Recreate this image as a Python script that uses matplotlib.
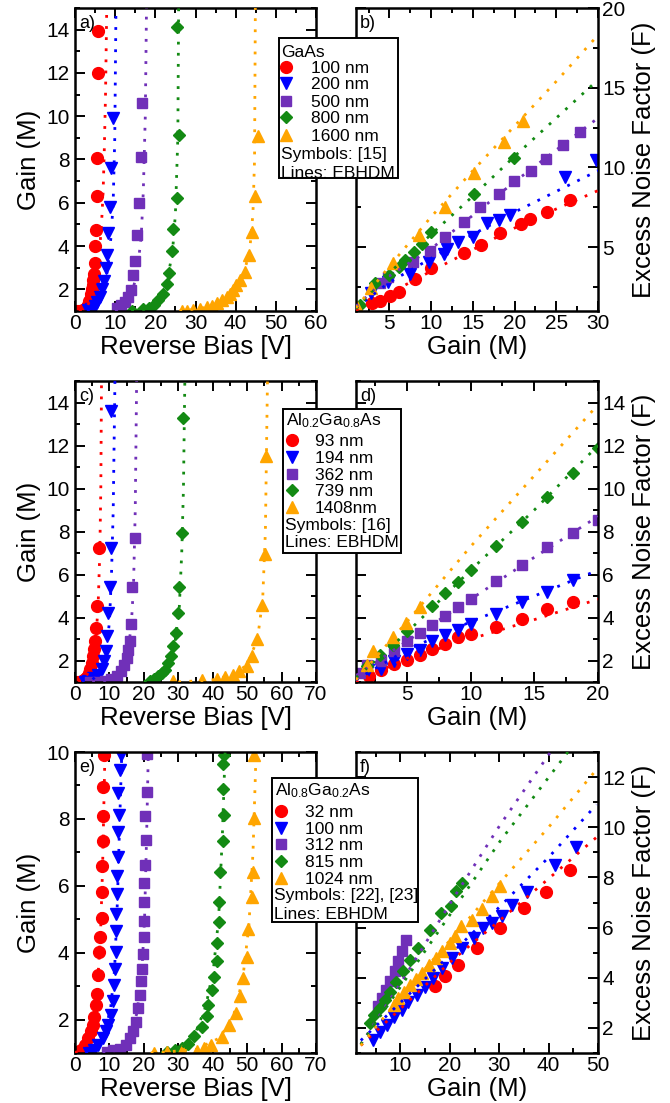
import matplotlib
matplotlib.use("Agg")
import matplotlib.pyplot as plt
from matplotlib.lines import Line2D
from matplotlib.patches import Rectangle
from matplotlib.ticker import MultipleLocator

plt.rcParams['font.family'] = ['Liberation Sans', 'DejaVu Sans']
plt.rcParams['mathtext.fontset'] = 'custom'
plt.rcParams['mathtext.rm'] = 'Liberation Sans'
plt.rcParams['mathtext.it'] = 'Liberation Sans:italic'
plt.rcParams['mathtext.default'] = 'regular'

# ---------------- a) GaAs: gain vs reverse bias ----------------
a_labels = ["100 nm", "200 nm", "500 nm", "800 nm", "1600 nm"]
a_v_100 = [0.5, 1.0, 1.5, 2.0, 2.5, 3.0, 3.3, 3.6, 3.9, 4.1, 4.3, 4.5, 4.6, 4.7, 5.0, 5.0, 5.2, 5.6, 5.6, 5.8, 5.8]
a_m_100 = [1.0, 1.0, 1.02, 1.05, 1.1, 1.2, 1.3, 1.45, 1.6, 1.8, 2.0, 2.2, 2.45, 2.7, 3.2, 4.0, 4.75, 6.3, 8.06, 12.0, 13.95]
a_v_200 = [3.3, 4.1, 5.0, 5.6, 6.2, 6.6, 7.3, 7.7, 8.0, 8.3, 8.7, 9.0, 9.4]
a_m_200 = [1.05, 1.1, 1.25, 1.4, 1.65, 2.0, 2.4, 3.0, 3.6, 4.6, 5.8, 7.6, 9.9]
a_v_500 = [10.4, 11.5, 12.4, 13.3, 13.9, 14.5, 14.9, 15.4, 16.0, 16.4, 16.6]
a_m_500 = [1.12, 1.28, 1.43, 1.66, 1.97, 2.65, 3.3, 4.5, 6.0, 8.1, 10.6]
a_v_800 = [14.1, 17.0, 18.3, 19.7, 20.7, 21.8, 22.8, 23.4, 24.2, 24.5, 25.3, 25.9, 25.3]
a_m_800 = [1.0, 1.08, 1.12, 1.28, 1.5, 1.77, 2.23, 2.77, 3.79, 4.78, 6.2, 9.14, 14.1]
a_v_1600 = [26.6, 27.8, 29.5, 31.1, 32.8, 34.0, 35.3, 36.5, 37.8, 38.6, 39.4, 40.2, 41.1, 42.3, 43.2, 44.1, 44.8, 45.5]
a_m_1600 = [1.0, 1.02, 1.05, 1.1, 1.17, 1.23, 1.35, 1.5, 1.65, 1.8, 1.97, 2.2, 2.43, 2.8, 3.6, 4.67, 6.3, 9.07]
# EBHDM curves
a_lv_100 = [1.0, 3.0, 4.5, 5.5, 6.2, 6.6, 7.0, 7.3, 7.6, 7.9]
a_lm_100 = [1.0, 1.2, 1.8, 2.8, 4.0, 5.0, 6.5, 8.5, 11.0, 15.0]
a_lv_200 = [3.0, 5.0, 7.0, 8.2, 9.0, 9.5, 9.9, 10.2]
a_lm_200 = [1.0, 1.2, 1.8, 3.0, 4.5, 6.0, 9.0, 15.0]
a_lv_500 = [10.0, 12.0, 14.0, 15.5, 16.5, 17.0, 17.5, 17.8]
a_lm_500 = [1.0, 1.2, 1.7, 2.8, 4.5, 6.5, 10.0, 15.0]
a_lv_800 = [14.0, 18.0, 21.0, 23.0, 24.3, 25.0, 25.6, 25.8]
a_lm_800 = [1.0, 1.1, 1.5, 2.4, 3.8, 5.5, 9.0, 15.0]
a_lv_1600 = [26.0, 34.0, 39.0, 42.0, 43.5, 44.3, 44.7, 44.9]
a_lm_1600 = [1.0, 1.2, 1.8, 2.7, 3.8, 5.5, 8.0, 15.0]

# ---------------- b) GaAs: excess noise factor vs gain ----------------
b_g_100 = [2.9, 3.9, 5.1, 6.2, 8.1, 10.0, 14.0, 16.0, 18.2, 20.8, 21.9, 23.9, 26.6]
b_f_100 = [1.48, 1.63, 1.94, 2.21, 2.99, 3.68, 4.62, 5.14, 5.87, 6.46, 6.77, 7.23, 7.97]
b_g_200 = [2.8, 4.8, 7.5, 9.7, 11.6, 11.9, 13.2, 15.0, 16.7, 18.1, 19.5, 26.1, 29.8]
b_f_200 = [2.1, 2.84, 3.3, 4.1, 4.6, 4.9, 5.35, 5.67, 6.54, 6.7, 7.0, 9.4, 10.5]
b_g_500 = [3.9, 4.8, 7.8, 9.9, 11.7, 13.9, 15.8, 18.1, 19.9, 22.0, 23.8, 25.8, 27.9]
b_f_500 = [2.78, 3.15, 4.05, 4.79, 5.67, 6.6, 7.5, 8.34, 9.18, 9.81, 10.52, 11.4, 12.25]
b_g_800 = [1.5, 3.3, 5.0, 6.1, 6.9, 7.9, 8.9, 10.0, 15.1, 19.9]
b_f_800 = [1.4, 2.74, 3.26, 3.78, 4.2, 4.72, 5.18, 5.98, 8.32, 10.58]
b_g_1600 = [1.08, 2.76, 5.4, 8.5, 11.7, 15.2, 18.7, 21.0]
b_f_1600 = [1.23, 2.42, 3.99, 5.77, 7.55, 9.64, 11.6, 12.9]
b_lg = [1, 5, 10, 15, 20, 25, 30]
b_lf_100 = [1.05, 2.1, 3.5, 4.85, 6.2, 7.4, 8.55]
b_lf_200 = [1.2, 2.8, 4.3, 5.8, 7.2, 8.5, 9.8]
b_lf_500 = [1.3, 3.2, 4.9, 7.0, 9.1, 11.1, 13.1]
b_lf_800 = [1.15, 3.4, 5.8, 8.2, 10.7, 13.1, 15.5]
b_lf_1600 = [1.2, 3.8, 6.9, 9.8, 12.6, 15.4, 18.3]

# ---------------- c) Al0.2Ga0.8As: gain vs reverse bias ----------------
c_labels = ["93 nm", "194 nm", "362 nm", "739 nm", "1408nm"]
c_v_93 = [0.2, 1, 2, 3, 3.5, 4, 4.5, 5, 5.3, 5.6, 5.8, 6.1, 6.5, 7.0]
c_m_93 = [1.0, 1.02, 1.06, 1.15, 1.25, 1.4, 1.6, 1.9, 2.2, 2.55, 2.89, 3.5, 4.54, 7.22]
c_v_194 = [2.9, 3.9, 5.3, 6.8, 7.7, 8.5, 9.0, 9.4, 9.7, 10.2, 10.5, 10.6]
c_m_194 = [1.0, 1.03, 1.19, 1.34, 1.6, 1.99, 2.45, 3.12, 4.23, 5.44, 7.22, 13.6]
c_v_362 = [4.4, 6.8, 8.7, 10.6, 12.1, 13.3, 14.2, 15.0, 15.5, 16.0, 16.3, 16.7, 17.4]
c_m_362 = [1.0, 1.0, 1.03, 1.14, 1.29, 1.5, 1.8, 2.1, 2.5, 2.89, 3.71, 5.41, 7.68]
c_v_739 = [21.8, 22.9, 24.2, 25.2, 26.1, 27.1, 27.9, 28.6, 29.3, 30.0, 30.3, 31.0, 31.3]
c_m_739 = [1.06, 1.14, 1.26, 1.42, 1.57, 1.88, 2.19, 2.66, 3.3, 4.2, 5.44, 7.95, 13.3]
c_v_1408 = [28.6, 36.8, 41.1, 43.6, 46.0, 47.7, 49.9, 51.5, 53.0, 54.4, 55.2, 55.4]
c_m_1408 = [1.03, 1.08, 1.14, 1.23, 1.34, 1.5, 1.76, 2.22, 3.0, 4.59, 6.94, 11.5]
c_lv_93 = [1, 3, 5, 6, 6.7, 7.2, 7.5, 7.7]
c_lm_93 = [1.0, 1.15, 1.9, 2.9, 4.5, 7, 10, 15]
c_lv_194 = [2, 5, 7.5, 9, 10, 10.6, 11.1, 11.6]
c_lm_194 = [1.0, 1.1, 1.5, 2.3, 3.8, 6, 9, 15]
c_lv_362 = [5, 10, 13, 15, 16.3, 17, 17.5, 17.9]
c_lm_362 = [1.0, 1.1, 1.5, 2.2, 3.5, 5.5, 9, 15]
c_lv_739 = [20, 24, 27, 29, 30.3, 31, 31.5, 31.9]
c_lm_739 = [1.0, 1.25, 1.8, 2.8, 4.5, 7, 10, 15]
c_lv_1408 = [30, 40, 46, 50, 53, 54.5, 55.3, 55.9]
c_lm_1408 = [1.0, 1.1, 1.35, 1.8, 3.0, 4.8, 8, 15]

# ---------------- d) Al0.2Ga0.8As: excess noise factor vs gain ----------------
d_g_93 = [2.05, 3, 4, 5, 6, 7, 8, 9, 10, 12, 14, 16, 18]
d_f_93 = [1.29, 1.54, 1.84, 2.04, 2.27, 2.53, 2.76, 3.07, 3.24, 3.54, 3.92, 4.39, 4.71]
d_g_194 = [1.97, 3, 4, 5, 6, 7, 8, 9, 10, 12, 14, 16, 18]
d_f_194 = [1.54, 1.6, 1.96, 2.31, 2.5, 2.89, 3.2, 3.4, 3.71, 4.17, 4.7, 5.2, 5.75]
d_g_362 = [1.3, 1.9, 3, 4, 5, 6, 7, 8, 9, 10, 12, 14, 16, 18, 20]
d_f_362 = [1.42, 1.8, 1.96, 2.42, 2.89, 3.27, 3.66, 4.08, 4.48, 4.87, 5.72, 6.45, 7.27, 7.92, 8.53]
d_g_739 = [1.84, 2.9, 3.9, 5.0, 7.0, 8, 9, 10, 12, 14, 16, 18, 20]
d_f_739 = [1.73, 2.27, 2.73, 3.35, 4.54, 5.13, 5.67, 6.21, 7.33, 8.43, 9.62, 10.7, 11.9]
d_g_1408 = [1.9, 2.3, 3.9, 4.9, 6.0]
d_f_1408 = [1.77, 2.42, 3.07, 3.74, 4.51]
d_lg = [1, 5, 10, 15, 20]
d_lf_93 = [1.0, 2.1, 3.0, 3.9, 4.85]
d_lf_194 = [1.1, 2.5, 3.8, 5.0, 6.2]
d_lf_362 = [1.3, 2.9, 4.85, 6.8, 8.7]
d_lf_739 = [1.2, 3.3, 6.2, 9.0, 12.0]
d_lf_1408 = [1.1, 3.8, 7.3, 10.6, 13.9]

# ---------------- e) Al0.8Ga0.2As: gain vs reverse bias ----------------
e_labels = ["32 nm", "100 nm", "312 nm", "815 nm", "1024 nm"]
e_v_32 = [0.7, 1.7, 2.9, 3.9, 4.6, 5.1, 5.6, 6.0, 6.3, 6.6, 7.0, 7.3, 7.7, 7.9, 7.9, 8.2, 8.2, 8.2, 8.4]
e_m_32 = [1.02, 1.1, 1.25, 1.45, 1.65, 1.85, 2.09, 2.44, 2.77, 3.32, 4.03, 4.46, 5.05, 5.8, 6.59, 7.33, 8.08, 8.94, 9.92]
e_v_100 = [4.2, 5.6, 6.8, 8.0, 9.0, 9.7, 10.5, 10.9, 11.4, 11.6, 11.8, 11.9, 11.9, 12.1, 12.1, 12.4, 12.6, 12.9, 12.6, 13.1, 13.3]
e_m_100 = [1.0, 1.1, 1.25, 1.45, 1.65, 1.85, 2.14, 2.54, 3.04, 3.5, 4.03, 4.66, 5.16, 5.75, 6.3, 6.87, 7.61, 8.11, 8.76, 9.45, 9.92]
e_v_312 = [9.2, 11.1, 13.1, 14.8, 16.0, 16.9, 17.7, 18.2, 18.9, 19.2, 19.6, 19.8, 20.0, 20.0, 20.1, 20.1, 20.3, 20.5, 20.3, 20.8, 21.0]
e_m_312 = [1.02, 1.08, 1.12, 1.25, 1.45, 1.65, 1.94, 2.34, 2.74, 3.14, 3.5, 3.96, 4.48, 4.96, 5.52, 6.07, 6.62, 7.36, 8.08, 8.81, 9.93]
e_v_815 = [26.6, 29.0, 31.0, 32.9, 34.7, 36.8, 38.2, 38.7, 39.7, 40.5, 41.1, 41.3, 41.8, 41.9, 42.1, 43.1, 43.3, 43.1, 43.1, 43.3]
e_m_815 = [1.02, 1.1, 1.15, 1.28, 1.52, 1.77, 2.11, 2.44, 2.89, 3.27, 3.75, 4.28, 4.93, 5.52, 6.42, 7.33, 8.11, 8.88, 9.65, 9.92]
e_v_1024 = [22.9, 26.6, 31.0, 35.3, 37.5, 39.4, 42.6, 44.8, 46.9, 47.9, 48.9, 49.9, 50.3, 51.3, 51.8, 52.0, 52.0]
e_m_1024 = [1.0, 1.02, 1.05, 1.07, 1.15, 1.25, 1.48, 1.83, 2.19, 2.69, 3.24, 3.88, 4.7, 5.67, 6.42, 8.03, 9.9]
e_lv_32 = [0, 3, 5, 6.5, 7.4, 8.0, 8.4, 8.7]
e_lm_32 = [1.0, 1.25, 1.8, 3.0, 4.5, 6.5, 8.5, 10]
e_lv_100 = [3, 6, 8.5, 10.3, 11.5, 12.3, 13.0, 13.6]
e_lm_100 = [1.0, 1.15, 1.6, 2.3, 3.5, 5.5, 8, 10]
e_lv_312 = [8, 13, 16, 18, 19.4, 20.2, 20.8, 21.3]
e_lm_312 = [1.0, 1.1, 1.5, 2.2, 3.4, 5, 7.5, 10]
e_lv_815 = [25, 31, 35, 38, 40.2, 41.7, 42.8, 43.6]
e_lm_815 = [1.0, 1.15, 1.6, 2.4, 3.5, 5, 7.5, 10]
e_lv_1024 = [22, 35, 42, 46, 48.7, 50.5, 51.7, 52.6]
e_lm_1024 = [1.0, 1.1, 1.45, 2.1, 3.2, 4.8, 7, 10]

# ---------------- f) Al0.8Ga0.2As: excess noise factor vs gain ----------------
f_g_32 = [16.9, 19.0, 21.6, 25.6, 30.2, 35.1, 39.5, 44.3]
f_f_32 = [3.68, 4.05, 4.52, 5.18, 5.98, 6.78, 7.43, 8.28]
f_g_100 = [4.5, 5.9, 7.2, 8.6, 10.3, 11.6, 13.3, 15.0, 16.5, 18.4, 20.4, 22.4, 24.8, 26.8, 28.5, 30.5, 32.5, 35.7, 41.2, 45.6]
f_f_100 = [1.52, 1.85, 2.12, 2.45, 2.72, 3.05, 3.32, 3.65, 3.98, 4.38, 4.78, 5.18, 5.58, 5.98, 6.18, 6.45, 6.91, 7.42, 8.48, 9.21]
f_g_312 = [5.5, 6.2, 7.0, 7.9, 8.8, 9.6, 10.3, 11.1]
f_f_312 = [2.88, 3.18, 3.52, 3.88, 4.25, 4.65, 5.08, 5.51]
f_g_815 = [3.8, 4.7, 5.9, 6.9, 7.9, 9.2, 10.6, 11.9, 13.6, 16.0, 18.2, 20.2, 21.2, 22.4]
f_f_815 = [2.19, 2.52, 2.79, 3.12, 3.45, 3.85, 4.25, 4.72, 5.18, 5.91, 6.58, 6.88, 7.47, 7.78]
f_g_1024 = [8.6, 9.6, 10.8, 11.9, 13.1, 14.3, 15.8, 17.2, 18.4, 20.0, 21.0, 22.3, 24.4, 26.5, 28.5, 30.2]
f_f_1024 = [2.92, 3.2, 3.45, 3.7, 3.95, 4.2, 4.5, 4.8, 5.05, 5.4, 5.65, 6.05, 6.31, 6.74, 7.24, 7.67]
f_lg = [1.97, 10.74, 20.5, 30.2, 40.0, 49.7]
f_lf_32 = [1.3, 2.9, 4.7, 6.3, 7.95, 9.6]
f_lf_100 = [1.5, 3.15, 5.0, 6.85, 8.8, 10.9]
f_lf_1024 = [1.3, 3.4, 5.6, 7.8, 10.0, 12.3]
f_lg_312 = [1.97, 10.74, 20.5, 30.2, 40.4]
f_lf_312 = [1.35, 4.0, 7.1, 10.1, 13.0]
f_lg_815 = [1.97, 10.74, 20.5, 30.2, 43.9]
f_lf_815 = [1.35, 3.85, 6.65, 9.45, 13.0]

# ---------------- styling ----------------
COLORS = ['#ff0000', '#0000ff', '#7030b8', '#138a13', '#ffa500']
MARKERS = ['o', 'v', 's', 'D', '^']
MSIZES = [8.5, 8.5, 7.5, 6.5, 8.5]
DOTS = (0, (1, 3))
LEG_FS = 12.5

W, H = 670, 1103
fig = plt.figure(figsize=(W / 100, H / 100), dpi=100)


def rect(l, t, r, b):
    return [l / W, 1 - b / H, (r - l) / W, (b - t) / H]


def make_axes(pos, xlim, ylim, xmaj, xmin, ymaj, ymin, xlabel, ylabel, letter, right=False):
    ax = fig.add_axes(rect(*pos))
    ax.set_xlim(*xlim)
    ax.set_ylim(*ylim)
    ax.xaxis.set_major_locator(MultipleLocator(xmaj))
    ax.xaxis.set_minor_locator(MultipleLocator(xmin))
    ax.yaxis.set_major_locator(MultipleLocator(ymaj))
    ax.yaxis.set_minor_locator(MultipleLocator(ymin))
    ax.tick_params(which='both', direction='in', top=True, right=True, width=1.4, labelsize=15)
    ax.tick_params(axis='x', which='both', pad=2.5)
    ax.tick_params(axis='y', which='both', pad=4)
    ax.tick_params(which='major', length=7)
    ax.tick_params(which='minor', length=3.5)
    for s in ax.spines.values():
        s.set_linewidth(1.8)
    ax.set_xlabel(xlabel, fontsize=18.5, labelpad=1)
    if right:
        ax.tick_params(axis='y', which='both', labelleft=False, labelright=True, pad=3)
        ax.yaxis.set_label_position('right')
        ax.set_ylabel(ylabel, fontsize=18.5, labelpad=5)
    else:
        ax.set_ylabel(ylabel, fontsize=18.5, labelpad=4)
    ax.annotate(letter, xy=(0, 1), xycoords='axes fraction', xytext=(3, -5),
                textcoords='offset points', ha='left', va='top', fontsize=13)
    return ax


def draw(ax, pts, curves):
    for i, (x, y) in enumerate(pts):
        ax.plot(x, y, linestyle='none', marker=MARKERS[i], ms=MSIZES[i],
                color=COLORS[i], mec=COLORS[i], zorder=2)
    for i, (x, y) in enumerate(curves):
        ax.plot(x, y, color=COLORS[i], lw=2.0, linestyle=DOTS, zorder=3)


def legend(box, title, title_xy, mark_x, text_x, rows_y, labels, notes, notes_y):
    l, t, r, b = box
    fig.add_artist(Rectangle((l / W, 1 - b / H), (r - l) / W, (b - t) / H,
                             transform=fig.transFigure, facecolor='white',
                             edgecolor='black', lw=1.4, zorder=10))
    fig.text(title_xy[0] / W, 1 - title_xy[1] / H, title, fontsize=LEG_FS,
             ha='left', va='baseline', zorder=11)
    for i, (yy, lab) in enumerate(zip(rows_y, labels)):
        fig.add_artist(Line2D([mark_x / W], [1 - yy / H], transform=fig.transFigure,
                              marker=MARKERS[i], ms=MSIZES[i], color=COLORS[i],
                              linestyle='none', zorder=11))
        fig.text(text_x / W, 1 - (yy + 6) / H, lab, fontsize=LEG_FS, ha='left',
                 va='baseline', zorder=11)
    for yy, note in zip(notes_y, notes):
        fig.text((l + 2) / W, 1 - (yy + 6) / H, note, fontsize=LEG_FS, ha='left',
                 va='baseline', zorder=11)


BIAS = 'Reverse Bias [V]'
GAIN_L = 'Gain (M)'
ENF = 'Excess Noise Factor (F)'

# a)
ax = make_axes((75, 8, 316, 311), (0, 60), (1, 15), 10, 5, 2, 1, BIAS, GAIN_L, 'a)')
draw(ax, [(a_v_100, a_m_100), (a_v_200, a_m_200), (a_v_500, a_m_500), (a_v_800, a_m_800), (a_v_1600, a_m_1600)],
     [(a_lv_100, a_lm_100), (a_lv_200, a_lm_200), (a_lv_500, a_lm_500), (a_lv_800, a_lm_800), (a_lv_1600, a_lm_1600)])

# b)
ax = make_axes((356, 8, 598, 311), (1, 30), (1, 20), 5, 2.5, 5, 2.5, GAIN_L, ENF, 'b)', right=True)
draw(ax, [(b_g_100, b_f_100), (b_g_200, b_f_200), (b_g_500, b_f_500), (b_g_800, b_f_800), (b_g_1600, b_f_1600)],
     [(b_lg, b_lf_100), (b_lg, b_lf_200), (b_lg, b_lf_500), (b_lg, b_lf_800), (b_lg, b_lf_1600)])

# c)
ax = make_axes((75, 381, 316, 682), (0, 70), (1, 15), 10, 5, 2, 1, BIAS, GAIN_L, 'c)')
draw(ax, [(c_v_93, c_m_93), (c_v_194, c_m_194), (c_v_362, c_m_362), (c_v_739, c_m_739), (c_v_1408, c_m_1408)],
     [(c_lv_93, c_lm_93), (c_lv_194, c_lm_194), (c_lv_362, c_lm_362), (c_lv_739, c_lm_739), (c_lv_1408, c_lm_1408)])

# d)
ax = make_axes((356, 381, 598, 682), (1, 20), (1, 15), 5, 2.5, 2, 1, GAIN_L, ENF, 'd)', right=True)
draw(ax, [(d_g_93, d_f_93), (d_g_194, d_f_194), (d_g_362, d_f_362), (d_g_739, d_f_739), (d_g_1408, d_f_1408)],
     [(d_lg, d_lf_93), (d_lg, d_lf_194), (d_lg, d_lf_362), (d_lg, d_lf_739), (d_lg, d_lf_1408)])

# e)
ax = make_axes((75, 752, 316, 1053), (0, 70), (1, 10), 10, 5, 2, 1, BIAS, GAIN_L, 'e)')
draw(ax, [(e_v_32, e_m_32), (e_v_100, e_m_100), (e_v_312, e_m_312), (e_v_815, e_m_815), (e_v_1024, e_m_1024)],
     [(e_lv_32, e_lm_32), (e_lv_100, e_lm_100), (e_lv_312, e_lm_312), (e_lv_815, e_lm_815), (e_lv_1024, e_lm_1024)])

# f)
ax = make_axes((356, 752, 598, 1053), (1, 50), (1, 13), 10, 5, 2, 1, GAIN_L, ENF, 'f)', right=True)
draw(ax, [(f_g_32, f_f_32), (f_g_100, f_f_100), (f_g_312, f_f_312), (f_g_815, f_f_815), (f_g_1024, f_f_1024)],
     [(f_lg, f_lf_32), (f_lg, f_lf_100), (f_lg_312, f_lf_312), (f_lg_815, f_lf_815), (f_lg, f_lf_1024)])

# legends spanning the gap between the columns
legend((279, 38, 398, 178), 'GaAs', (281, 56.7), 286, 310.7,
       [66.7, 83.3, 100.7, 117.3, 135.0], a_labels,
       ['Symbols: [15]', 'Lines: EBHDM'], [153.3, 171.7])
legend((283, 409, 401, 553), r'Al$_{0.2}$Ga$_{0.8}$As', (286, 425), 291.7, 315,
       [440.3, 457.0, 473.7, 490.3, 507.0], c_labels,
       ['Symbols: [16]', 'Lines: EBHDM'], [524, 540.7])
legend((272, 778, 418, 922), r'Al$_{0.8}$Ga$_{0.2}$As', (275, 795), 280.7, 305,
       [811.3, 828.0, 844.3, 861.0, 877.7], e_labels,
       ['Symbols: [22], [23]', 'Lines: EBHDM'], [894, 912.7])

fig.savefig('out.png', dpi=100)
